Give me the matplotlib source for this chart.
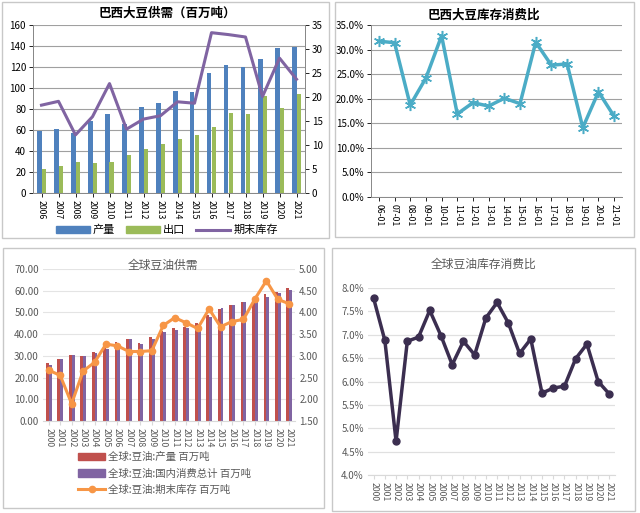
import matplotlib
matplotlib.use('Agg')
import matplotlib.pyplot as plt
from matplotlib.patches import Rectangle, Patch
from matplotlib.lines import Line2D
from matplotlib.ticker import FuncFormatter
import numpy as np

plt.rcParams['font.family'] = ['Noto Sans CJK SC', 'DejaVu Sans']

# --- 巴西大豆供需 ---
br_years = ['2006', '2007', '2008', '2009', '2010', '2011', '2012', '2013',
            '2014', '2015', '2016', '2017', '2018', '2019', '2020', '2021']
br_production = [59, 61, 57, 69, 75, 66, 82, 86, 97, 96, 114, 122, 120, 128, 138, 139]
br_exports = [23, 26, 30, 29, 30, 36, 42, 47, 51, 55, 63, 76, 75, 92, 81, 94]
br_ending_stock = [18.3, 19.1, 12.1, 15.9, 22.8, 13.3, 15.4, 16.1, 19.0, 18.7,
                   33.4, 33.0, 32.5, 20.1, 28.1, 23.7]

# --- 巴西大豆库存消费比 ---
br_ratio_labels = ['06-01', '07-01', '08-01', '09-01', '10-01', '11-01', '12-01', '13-01',
                   '14-01', '15-01', '16-01', '17-01', '18-01', '19-01', '20-01', '21-01']
br_ratio = [31.7, 31.4, 18.7, 24.2, 32.8, 16.9, 19.2, 18.5, 20.1, 19.0,
            31.5, 26.8, 27.1, 14.1, 21.4, 16.4]

# --- 全球豆油供需 ---
oil_years = [str(y) for y in range(2000, 2022)]
oil_production = [26.7, 28.5, 30.2, 29.9, 32.0, 34.6, 36.3, 37.7, 35.8, 38.8, 41.3,
                  42.7, 43.1, 45.0, 49.0, 51.5, 53.6, 55.0, 56.3, 58.3, 59.4, 61.2]
oil_consumption = [25.9, 28.5, 30.2, 29.9, 31.2, 33.1, 35.0, 37.6, 35.6, 37.6, 40.8,
                   41.9, 42.8, 44.5, 47.8, 52.0, 53.6, 54.7, 55.3, 57.0, 58.9, 60.4]
oil_ending_stock = [2.67, 2.55, 1.90, 2.65, 2.85, 3.27, 3.23, 3.10, 3.10, 3.12, 3.70,
                    3.88, 3.76, 3.63, 4.08, 3.67, 3.79, 3.84, 4.31, 4.73, 4.30, 4.20]

# --- 全球豆油库存消费比 ---
oil_ratio = [7.78, 6.88, 4.72, 6.86, 6.95, 7.52, 6.98, 6.36, 6.86, 6.57, 7.36,
             7.69, 7.25, 6.60, 6.91, 5.75, 5.86, 5.90, 6.49, 6.80, 6.00, 5.73]

W, H = 640, 513
fig = plt.figure(figsize=(6.4, 5.13), dpi=100)


def box(x0, y0, x1, y1):
    # pixel box (top-left origin) -> figure fraction
    return [x0 / W, 1 - y1 / H, (x1 - x0) / W, (y1 - y0) / H]


def panel(x0, y0, x1, y1):
    b = box(x0, y0, x1, y1)
    fig.patches.append(Rectangle((b[0], b[1]), b[2], b[3], transform=fig.transFigure,
                                 fill=False, edgecolor='#c8c8c8', lw=1.0))


panel(2, 2, 329, 238)
panel(335, 2, 634, 237)
panel(3, 248, 324, 508)
panel(332, 248, 635, 511)

xlab_size = 6.3

# ---------- 巴西大豆供需 ----------
ax1 = fig.add_axes(box(33, 25, 305, 193))
x = np.arange(len(br_years))
w = 0.28
ax1.bar(x - w / 2, br_production, w, color='#4F81BD', label='产量')
ax1.bar(x + w / 2, br_exports, w, color='#9BBB59', label='出口')
ax1.set_ylim(0, 160)
ax1.set_yticks(range(0, 161, 20))
ax1.set_xlim(-0.5, len(br_years) - 0.5)
ax1.set_xticks(x)
ax1.set_xticklabels(br_years, rotation=270)
ax1.yaxis.grid(True, color='#a0a0a0', lw=0.8)
ax1.set_axisbelow(True)
ax1b = ax1.twinx()
ax1b.plot(x, br_ending_stock, color='#8064A2', lw=2.2)
ax1b.set_ylim(0, 35)
ax1b.set_yticks(range(0, 36, 5))
for a in (ax1, ax1b):
    a.tick_params(labelsize=7, colors='black', length=3, width=0.6, pad=2)
    for s in a.spines.values():
        s.set_color('#888888')
        s.set_linewidth(0.7)
    a.spines['top'].set_visible(False)
ax1.tick_params(axis='x', labelsize=xlab_size)
fig.text(167 / W, 1 - 13 / H, '巴西大豆供需（百万吨）', ha='center', va='center',
         fontsize=9, fontweight='bold')
handles = [Patch(color='#4F81BD'), Patch(color='#9BBB59'),
           Line2D([], [], color='#8064A2', lw=2.2)]
fig.legend(handles, ['产量', '出口', '期末库存'], loc='center',
           bbox_to_anchor=(167 / W, 1 - 230 / H), ncol=3, frameon=False,
           fontsize=8, handlelength=3.0, handleheight=0.6, columnspacing=1.0,
           handletextpad=0.3, borderpad=0)

# ---------- 巴西大豆库存消费比 ----------
ax2 = fig.add_axes(box(371, 25, 622, 197))
x2 = np.arange(len(br_ratio_labels))
ax2.plot(x2, br_ratio, color='#4BACC6', lw=2.5, marker=(6, 2, 0),
         markersize=8, markeredgewidth=1.1, markeredgecolor='#4BACC6')
ax2.set_ylim(0, 35)
ax2.set_yticks(np.arange(0, 36, 5))
ax2.yaxis.set_major_formatter(FuncFormatter(lambda v, p: f'{v:.1f}%'))
ax2.set_xlim(-0.5, len(br_ratio_labels) - 0.5)
ax2.set_xticks(x2)
ax2.set_xticklabels(br_ratio_labels, rotation=270)
ax2.yaxis.grid(True, color='#a0a0a0', lw=0.8)
ax2.set_axisbelow(True)
ax2.tick_params(labelsize=7, length=3, width=0.6, pad=2)
ax2.tick_params(axis='x', labelsize=xlab_size)
for k, s in ax2.spines.items():
    s.set_color('#888888')
    s.set_linewidth(0.7)
ax2.spines['top'].set_visible(False)
ax2.spines['right'].set_visible(False)
fig.text(484 / W, 1 - 15 / H, '巴西大豆库存消费比', ha='center', va='center',
         fontsize=9, fontweight='bold')

# ---------- 全球豆油供需 ----------
ax3 = fig.add_axes(box(43, 269, 295, 421))
x3 = np.arange(len(oil_years))
w3 = 0.25
ax3.bar(x3 - w3 / 2, oil_production, w3, color='#C0504D')
ax3.bar(x3 + w3 / 2, oil_consumption, w3, color='#8064A2')
ax3.set_ylim(0, 70)
ax3.set_yticks(range(0, 71, 10))
ax3.yaxis.set_major_formatter(FuncFormatter(lambda v, p: f'{v:.2f}'))
ax3.set_xlim(-0.5, len(oil_years) - 0.5)
ax3.set_xticks(x3)
ax3.set_xticklabels(oil_years, rotation=270)
ax3.yaxis.grid(True, color='#e4e4e4', lw=0.8)
ax3.set_axisbelow(True)
ax3b = ax3.twinx()
ax3b.plot(x3, oil_ending_stock, color='#F79646', lw=2.2, marker='o', markersize=4.5)
ax3b.set_ylim(1.5, 5.0)
ax3b.set_yticks(np.arange(1.5, 5.01, 0.5))
ax3b.yaxis.set_major_formatter(FuncFormatter(lambda v, p: f'{v:.2f}'))
for a in (ax3, ax3b):
    a.tick_params(labelsize=7, colors='#595959', length=0, pad=3)
    for s in a.spines.values():
        s.set_visible(False)
ax3.spines['bottom'].set_visible(True)
ax3.spines['bottom'].set_color('#d9d9d9')
ax3.tick_params(axis='x', length=3, color='#d9d9d9', labelsize=xlab_size, pad=2)
fig.text(163 / W, 1 - 265 / H, '全球豆油供需', ha='center', va='center',
         fontsize=8.5, color='#595959')
handles3 = [Patch(color='#C0504D'), Patch(color='#8064A2'),
            Line2D([], [], color='#F79646', lw=2.2, marker='o', markersize=4.5)]
fig.legend(handles3, ['全球:豆油:产量 百万吨', '全球:豆油:国内消费总计 百万吨',
                      '全球:豆油:期末库存 百万吨'],
           loc='upper left', bbox_to_anchor=(78 / W, 1 - 452 / H), ncol=1,
           frameon=False, fontsize=7.5, labelcolor='#595959', handlelength=2.6,
           handleheight=0.7, handletextpad=0.3, labelspacing=0.6,
           borderpad=0, borderaxespad=0)

# ---------- 全球豆油库存消费比 ----------
ax4 = fig.add_axes(box(368, 288, 615, 475))
ax4.plot(x3, oil_ratio, color='#3B2E50', lw=2.5, marker='o', markersize=5)
ax4.set_ylim(4.0, 8.0)
ax4.set_yticks(np.arange(4.0, 8.01, 0.5))
ax4.yaxis.set_major_formatter(FuncFormatter(lambda v, p: f'{v:.1f}%'))
ax4.set_xlim(-0.5, len(oil_years) - 0.5)
ax4.set_xticks(x3)
ax4.set_xticklabels(oil_years, rotation=270)
ax4.yaxis.grid(True, color='#e0e0e0', lw=0.9)
ax4.set_axisbelow(True)
ax4.tick_params(labelsize=7, colors='#595959', length=0, pad=3)
ax4.tick_params(axis='x', length=3, color='#d9d9d9', labelsize=xlab_size, pad=2)
for s in ax4.spines.values():
    s.set_visible(False)
ax4.spines['bottom'].set_visible(True)
ax4.spines['bottom'].set_color('#d9d9d9')
fig.text(484 / W, 1 - 264 / H, '全球豆油库存消费比', ha='center', va='center',
         fontsize=8.5, color='#595959')

fig.savefig('out.png', dpi=100)
